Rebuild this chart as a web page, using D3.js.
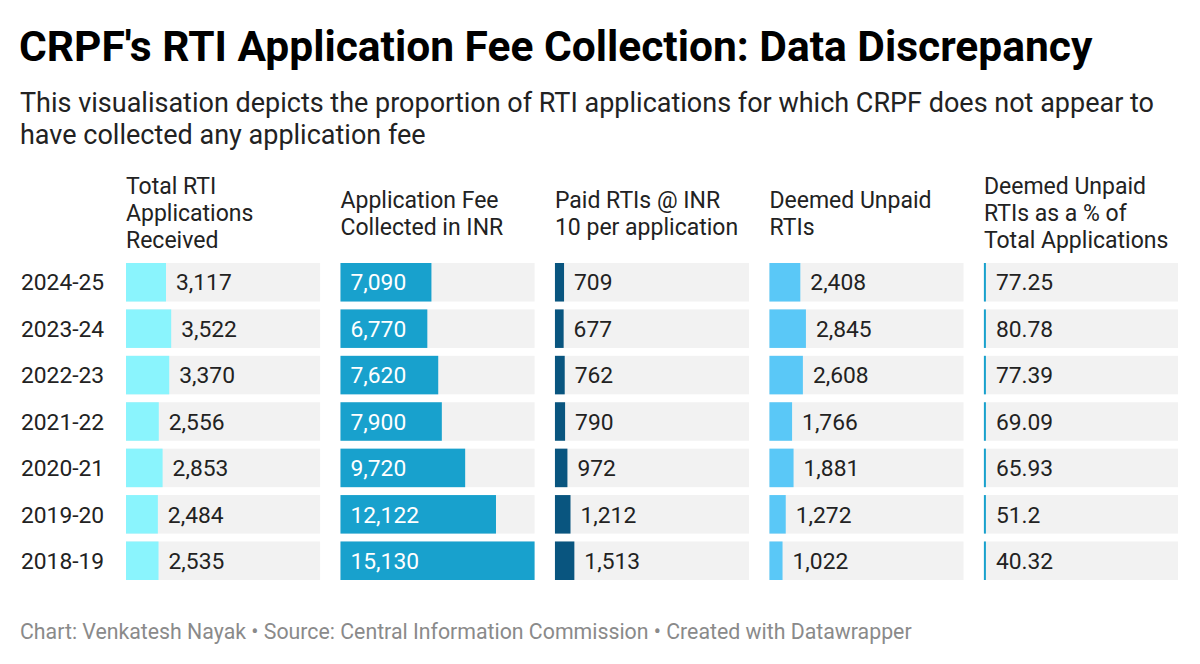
<!DOCTYPE html>
<html>
<head>
    <script src="https://cdnjs.cloudflare.com/ajax/libs/d3/7.8.5/d3.min.js"></script>
    <style>
        body { margin: 0; background: #fff; }
        svg { font-family: Roboto, "Noto Sans", sans-serif; }
        .title { font-size: 42.5px; font-weight: 700; fill: #000; }
        .subtitle { font-size: 27px; fill: #222; }
        .header { font-size: 23px; fill: #222; }
        .rowlabel { font-size: 22.8px; fill: #222; }
        .value { font-size: 22.8px; }
        .footer { font-size: 21.3px; fill: #8a8a8a; }
    </style>
</head>
<body>
    <div id="chart"></div>
    <script>
        const width = 1200, height = 664;

        const years = ["2024-25", "2023-24", "2022-23", "2021-22", "2020-21", "2019-20", "2018-19"];
        const totalApplications = [3117, 3522, 3370, 2556, 2853, 2484, 2535];
        const feeCollected = [7090, 6770, 7620, 7900, 9720, 12122, 15130];
        const paidRTIs = [709, 677, 762, 790, 972, 1212, 1513];
        const unpaidRTIs = [2408, 2845, 2608, 1766, 1881, 1272, 1022];
        const unpaidPercent = [77.25, 80.78, 77.39, 69.09, 65.93, 51.2, 40.32];

        const headers = [
            ["Total RTI", "Applications", "Received"],
            ["Application Fee", "Collected in INR"],
            ["Paid RTIs @ INR", "10 per application"],
            ["Deemed Unpaid", "RTIs"],
            ["Deemed Unpaid", "RTIs as a % of", "Total Applications"]
        ];
        const colors = ["#8af4fd", "#18a1cd", "#09557f", "#5ac8f7", "#18a1cd"];

        const columns = [
            { values: totalApplications, fmt: d3.format(",") },
            { values: feeCollected, fmt: d3.format(",") },
            { values: paidRTIs, fmt: d3.format(",") },
            { values: unpaidRTIs, fmt: d3.format(",") },
            { values: unpaidPercent, fmt: d => String(d) }
        ];

        const svg = d3.select("#chart").append("svg")
            .attr("width", width).attr("height", height);

        svg.append("text").attr("class", "title")
            .attr("x", 19).attr("y", 61)
            .text("CRPF's RTI Application Fee Collection: Data Discrepancy");

        const subLines = [
            "This visualisation depicts the proportion of RTI applications for which CRPF does not appear to",
            "have collected any application fee"
        ];
        svg.append("g").selectAll("text")
            .data(subLines).enter().append("text")
            .attr("class", "subtitle")
            .attr("x", 20)
            .attr("y", (d, i) => 112 + i * 32)
            .text(d => d);

        const colScale = d3.scaleBand()
            .domain(d3.range(columns.length))
            .range([126, 1178])
            .paddingInner(0.095);

        const rowScale = d3.scaleBand()
            .domain(years)
            .range([263, 580])
            .paddingInner(0.17);

        // one shared value scale across all columns
        const x = d3.scaleLinear()
            .domain([0, d3.max(feeCollected)])
            .range([0, colScale.bandwidth()]);

        // headers, centred vertically
        const lineH = 27, headMid = 213;
        headers.forEach((lines, c) => {
            svg.append("text").attr("class", "header")
                .selectAll("tspan")
                .data(lines).enter().append("tspan")
                .attr("x", colScale(c))
                .attr("y", (d, i) => headMid + (i - (lines.length - 1) / 2) * lineH)
                .attr("dy", "0.35em")
                .text(d => d);
        });

        // row labels
        svg.append("g").selectAll("text")
            .data(years).enter().append("text")
            .attr("class", "rowlabel")
            .attr("x", 21)
            .attr("y", d => rowScale(d) + rowScale.bandwidth() / 2)
            .attr("dy", "0.36em")
            .text(d => d);

        columns.forEach((col, c) => {
            const g = svg.append("g").attr("transform", `translate(${colScale(c)},0)`);
            const rows = g.selectAll("g")
                .data(col.values).enter().append("g")
                .attr("transform", (d, i) => `translate(0,${rowScale(years[i])})`);

            rows.append("rect")
                .attr("width", colScale.bandwidth())
                .attr("height", rowScale.bandwidth())
                .attr("fill", "#f2f2f2");

            rows.append("rect")
                .attr("width", d => Math.max(2, x(d)))
                .attr("height", rowScale.bandwidth())
                .attr("fill", colors[c]);

            rows.append("text")
                .attr("class", "value")
                .attr("y", rowScale.bandwidth() / 2)
                .attr("dy", "0.36em")
                .text(d => col.fmt(d))
                .each(function (d) {
                    const t = d3.select(this);
                    const w = this.getComputedTextLength();
                    const bw = Math.max(2, x(d));
                    if (bw > w + 20) {
                        t.attr("x", 10).attr("fill", "#fff");
                    } else {
                        t.attr("x", bw + 10).attr("fill", "#222");
                    }
                });
        });

        svg.append("text").attr("class", "footer")
            .attr("x", 20).attr("y", 639)
            .text("Chart: Venkatesh Nayak \u2022 Source: Central Information Commission \u2022 Created with Datawrapper");
    </script>
</body>
</html>
